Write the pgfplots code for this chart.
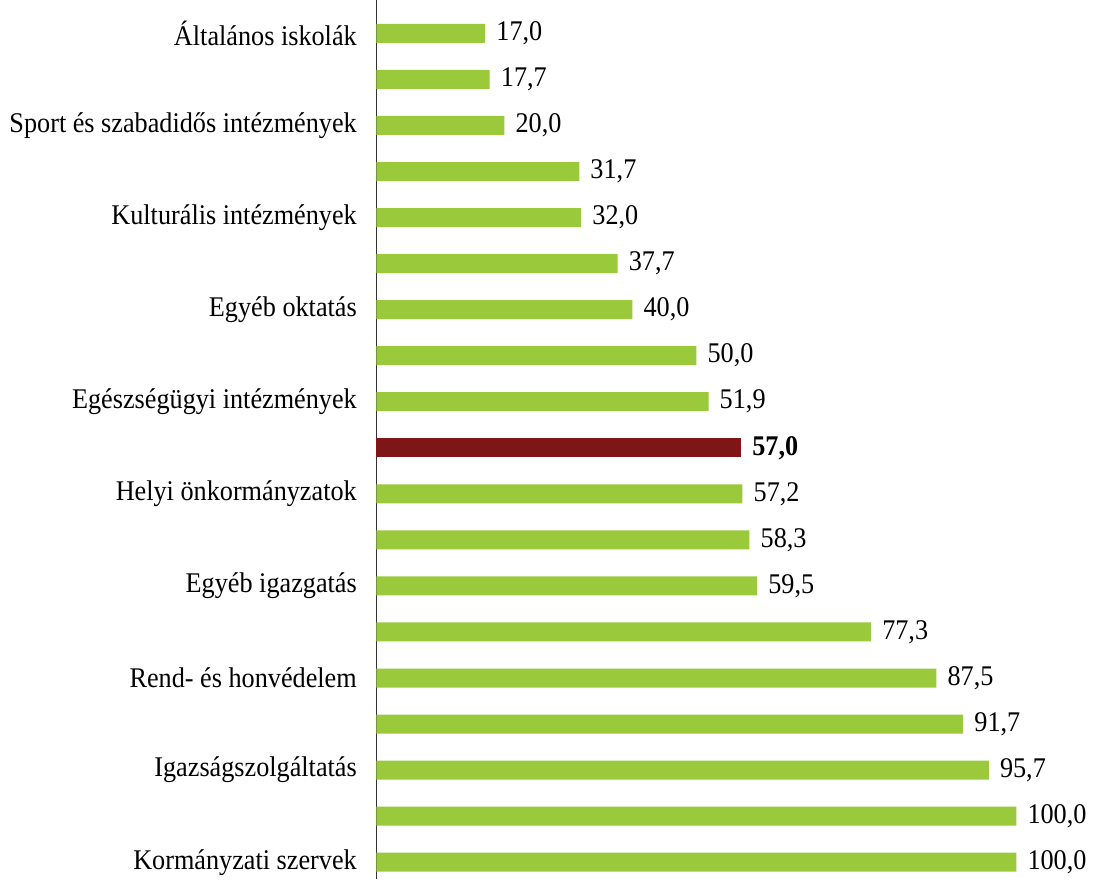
\documentclass[border=0pt]{standalone}
\usepackage{pgfplots}
\pgfplotsset{compat=1.18}
\usepackage{fontspec}
\setmainfont[FakeStretch=0.92]{Liberation Serif}
\definecolor{barg}{RGB}{154,202,60}
\definecolor{barr}{RGB}{126,21,23}
\newcommand{\lblfont}{\fontsize{28.5bp}{32bp}\selectfont}
\begin{document}
\lblfont
\begin{tikzpicture}
\begin{axis}[
  scale only axis,
  width=640bp, height=879bp,
  xmin=0, xmax=100,
  ymin=-0.716, ymax=18.37,
  y dir=reverse,
  axis x line=none,
  axis y line*=left,
  y axis line style={draw=black!80, line width=0.8bp},
  ytick={0,2,...,18},
  yticklabels={Általános iskolák,Sport és szabadidős intézmények,Kulturális intézmények,Egyéb oktatás,Egészségügyi intézmények,Helyi önkormányzatok,Egyéb igazgatás,Rend- és honvédelem,Igazságszolgáltatás,Kormányzati szervek},
  major tick length=0pt,
  yticklabel style={font=\lblfont, xshift=-10bp},
  clip=false,
  xbar, bar width=19bp, bar shift=0pt,
  nodes near coords,
  nodes near coords align={horizontal},
  every node near coord/.append style={font=\lblfont, black, anchor=west, xshift=1.5bp},
  /pgf/number format/.cd, fixed, fixed zerofill, precision=1, use comma, assume math mode=true,
]
\addplot[fill=barg, draw=none] coordinates {
(17.0,0) (17.7,1) (20.0,2) (31.7,3) (32.0,4) (37.7,5) (40.0,6) (50.0,7) (51.9,8)
(57.2,10) (58.3,11) (59.5,12) (77.3,13) (87.5,14) (91.7,15) (95.7,16) (100.0,17) (100.0,18)
};
\addplot[fill=barr, draw=none, every node near coord/.append style={font=\lblfont\bfseries}] coordinates {(57.0,9)};
\end{axis}
\end{tikzpicture}
\end{document}
